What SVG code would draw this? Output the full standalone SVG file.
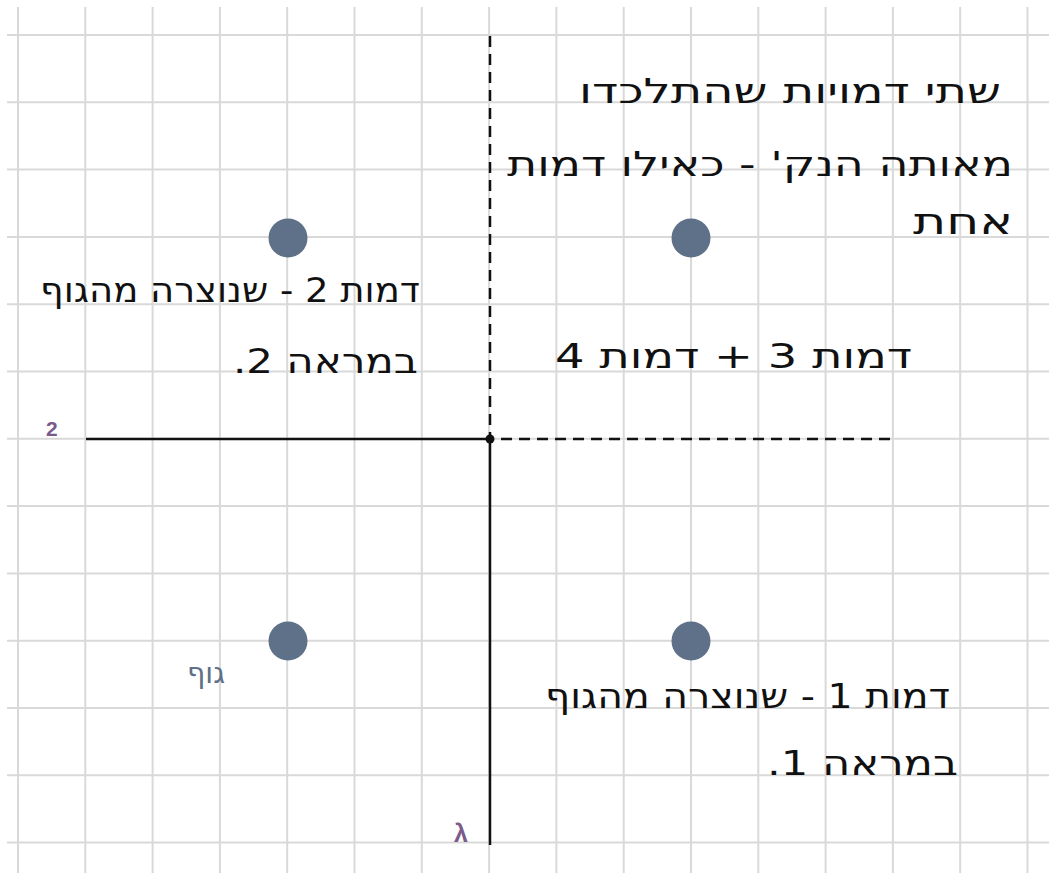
<svg xmlns="http://www.w3.org/2000/svg" width="1049" height="873" viewBox="0 0 1049 873">
<style>
.grid{stroke:#d9d9d9;stroke-width:2;fill:none}
.mirror{stroke:#111;stroke-width:2.5;fill:none}
.dash{stroke-dasharray:11 7}
.dot{fill:#5f7089}
.hw{font-family:"DejaVu Sans","Liberation Sans",sans-serif;font-size:34px;fill:#111;direction:rtl;unicode-bidi:embed}
.lbl{font-family:"Liberation Sans","DejaVu Sans",sans-serif;font-size:21px;font-weight:bold;fill:#7b5b8c}
</style>
<rect width="1049" height="873" fill="#fff"/>
<g id="grid" class="grid">
<path d="M18 7V873M85.3 7V873M152.6 7V873M219.9 7V873M287.2 7V873M354.5 7V873M421.8 7V873M489.1 7V873M556.4 7V873M623.7 7V873M691 7V873M758.3 7V873M825.6 7V873M892.9 7V873M960.2 7V873M1027.5 7V873"/>
<path d="M7 35H1049M7 102.3H1049M7 169.6H1049M7 236.9H1049M7 304.2H1049M7 371.5H1049M7 438.8H1049M7 506.1H1049M7 573.4H1049M7 640.7H1049M7 708H1049M7 775.3H1049M7 842.6H1049"/>
</g>
<g id="connectors">
<path class="mirror" d="M86 439H490V845"/>
<path class="mirror dash" d="M490 36V439H892"/>
<circle cx="490" cy="439" r="4.5" fill="#111"/>
</g>
<g id="dot-image2"><circle class="dot" cx="288" cy="238" r="19.5"/></g>
<g id="dot-image34"><circle class="dot" cx="691" cy="238" r="19.5"/></g>
<g id="dot-object"><circle class="dot" cx="288" cy="641" r="19.5"/></g>
<g id="dot-image1"><circle class="dot" cx="691" cy="641" r="19.5"/></g>
<g id="label-mirror2"><text class="lbl" x="46" y="436">2</text></g>
<g id="label-mirror1"><text class="lbl" x="454" y="842" style="font-size:25px">λ</text></g>
<g id="note-top">
<text class="hw" x="1001" y="103" textLength="422" lengthAdjust="spacingAndGlyphs">שתי דמויות שהתלכדו</text>
<text class="hw" x="1013" y="176" textLength="506" lengthAdjust="spacingAndGlyphs">מאותה הנק' - כאילו דמות</text>
<text class="hw" x="1013" y="234" textLength="100" lengthAdjust="spacingAndGlyphs" style="font-size:36px">אחת</text>
</g>
<g id="note-image2">
<text class="hw" x="420" y="302" textLength="380" lengthAdjust="spacingAndGlyphs">דמות 2 - שנוצרה מהגוף</text>
<text class="hw" x="418" y="373" textLength="185" lengthAdjust="spacingAndGlyphs">במראה 2.</text>
</g>
<g id="note-image34">
<text class="hw" x="912" y="368" textLength="357" lengthAdjust="spacingAndGlyphs">דמות 3 + דמות 4</text>
</g>
<g id="note-image1">
<text class="hw" x="950" y="708" textLength="405" lengthAdjust="spacingAndGlyphs">דמות 1 - שנוצרה מהגוף</text>
<text class="hw" x="958" y="775" textLength="191" lengthAdjust="spacingAndGlyphs">במראה 1.</text>
</g>
<g id="note-object">
<text class="hw" x="225" y="683" textLength="38" lengthAdjust="spacingAndGlyphs" style="fill:#5f7089;font-size:30px">גוף</text>
</g>
</svg>
